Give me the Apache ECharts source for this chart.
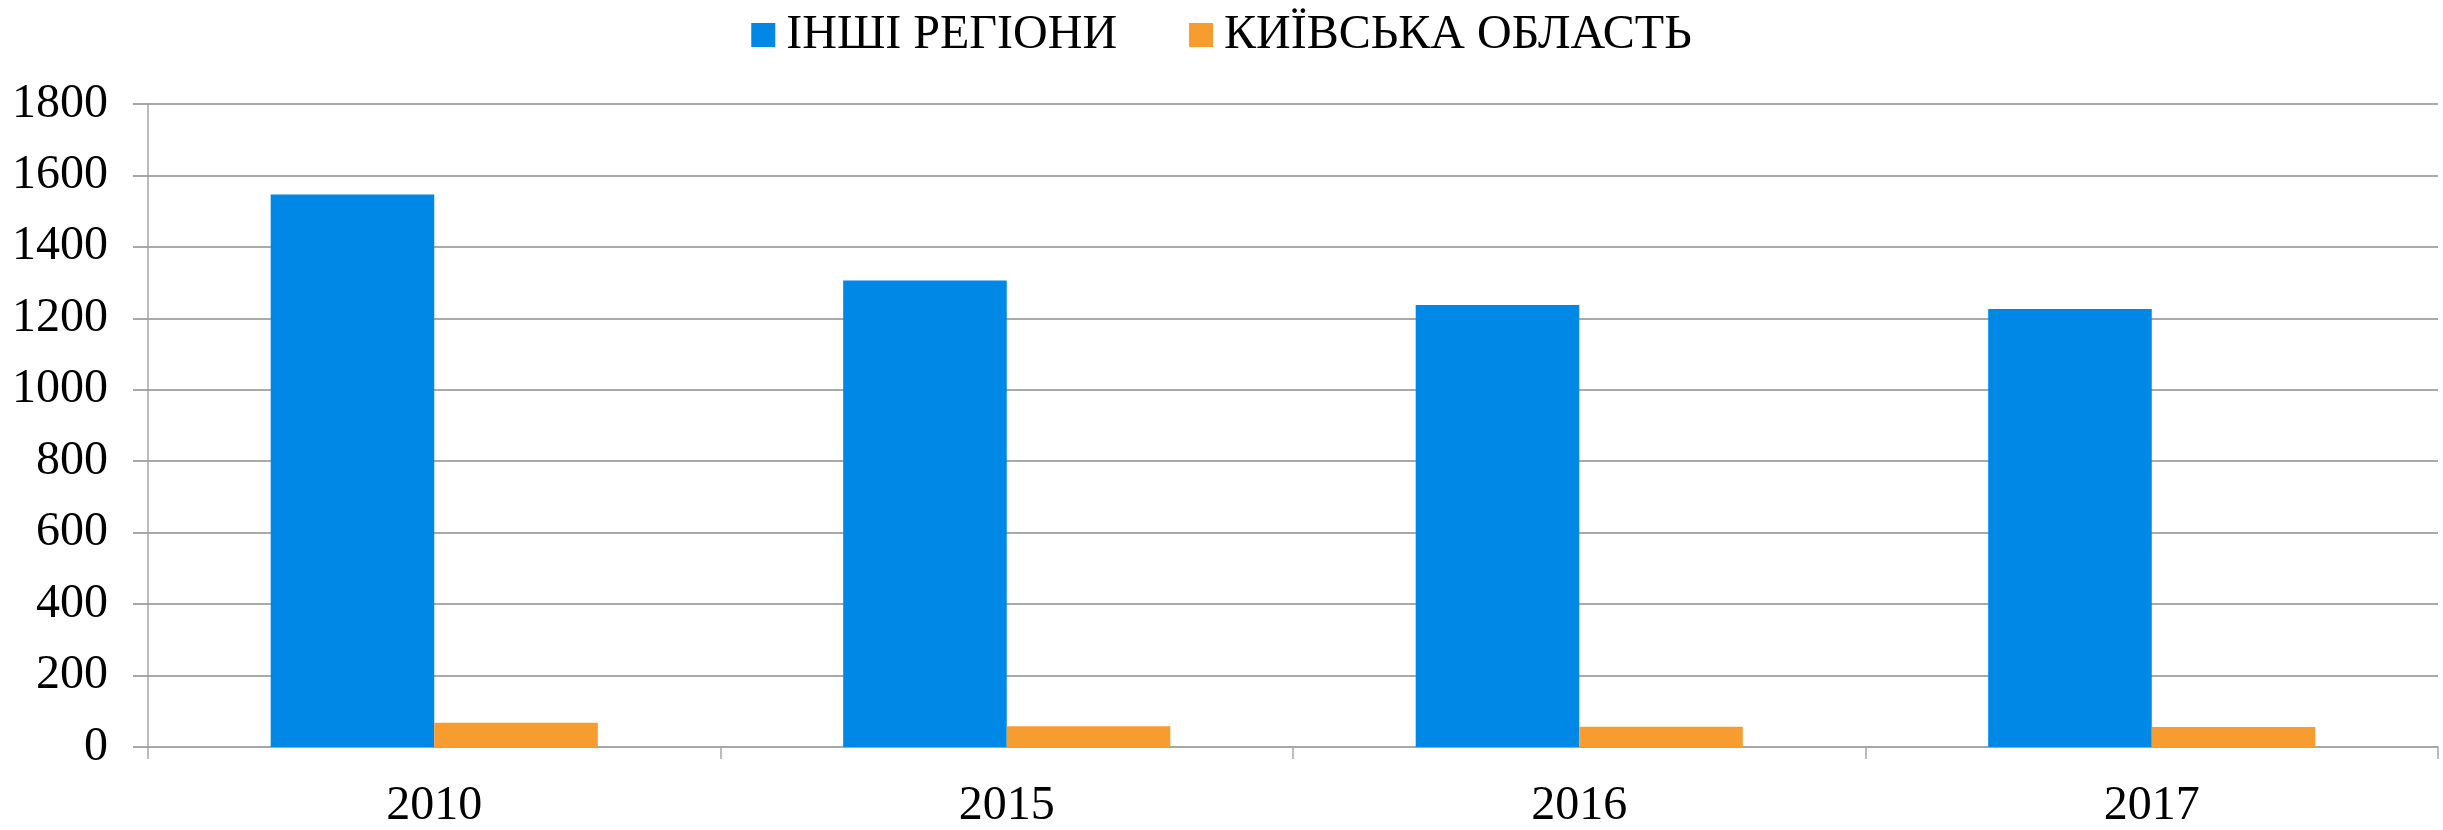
<!DOCTYPE html>
<html>
<head>
<meta charset="utf-8">
<script src="https://cdn.jsdelivr.net/npm/echarts@6/dist/echarts.min.js"></script>
<style>
  html, body { margin: 0; padding: 0; background: #fff; }
  #chart { width: 2443px; height: 830px; }
</style>
</head>
<body>
<div id="chart"></div>
<script>
const years = ['2010', '2015', '2016', '2017']
const otherRegions = [1547, 1306, 1237, 1226]
const kyivOblast = [68, 58, 57, 56]
const seriesNames = ['ІНШІ РЕГІОНИ', 'КИЇВСЬКА ОБЛАСТЬ']

const font = '"Liberation Serif", "Times New Roman", serif'
const gridColor = '#8c8c8c'
const axisColor = '#a6a6a6'

const chart = echarts.init(document.getElementById('chart'))
chart.setOption({
  animation: false,
  legend: {
    data: seriesNames,
    top: 6,
    left: 'center',
    itemWidth: 24,
    itemHeight: 24,
    itemGap: 72,
    icon: 'rect',
    textStyle: {
      fontFamily: font,
      fontSize: 48,
      color: '#000',
      padding: [0, 0, 0, 6]
    }
  },
  grid: {
    left: 148,
    right: 5,
    top: 104,
    bottom: 76,
    containLabel: false
  },
  xAxis: {
    type: 'category',
    data: years,
    axisLine: { show: true, lineStyle: { color: axisColor, width: 1.5 } },
    axisTick: { show: true, length: 12, lineStyle: { color: axisColor, width: 1.5 } },
    axisLabel: {
      fontFamily: font,
      fontSize: 48,
      color: '#000',
      margin: 35
    }
  },
  yAxis: {
    type: 'value',
    min: 0,
    max: 1800,
    interval: 200,
    axisLine: { show: true, lineStyle: { color: axisColor, width: 1.5 } },
    axisTick: { show: true, length: 15, lineStyle: { color: gridColor, width: 1.5 } },
    splitLine: { show: true, lineStyle: { color: gridColor, width: 1.5 } },
    axisLabel: {
      fontFamily: font,
      fontSize: 48,
      color: '#000',
      margin: 40,
      formatter: v => String(v)
    }
  },
  series: [
    {
      name: seriesNames[0],
      type: 'bar',
      data: otherRegions,
      barGap: '0%',
      barCategoryGap: '42.86%',
      itemStyle: { color: '#0088e6' }
    },
    {
      name: seriesNames[1],
      type: 'bar',
      data: kyivOblast,
      itemStyle: { color: '#f79c2f' }
    }
  ]
})
</script>
</body>
</html>
